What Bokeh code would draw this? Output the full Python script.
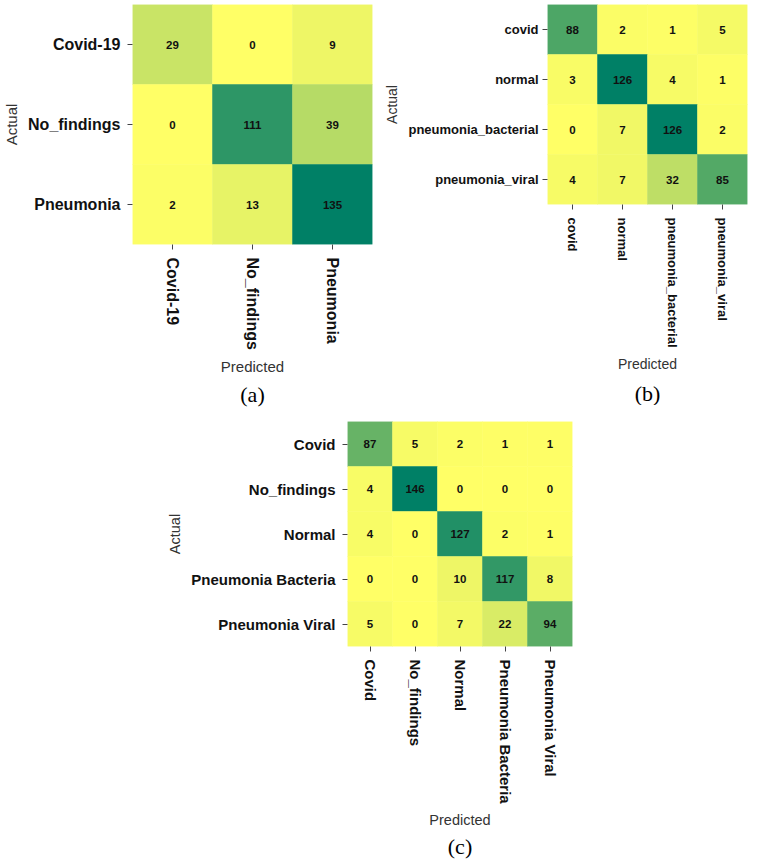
from bokeh.plotting import figure
from bokeh.models import ColumnDataSource, FactorRange, Title, LinearColorMapper
from bokeh.transform import transform
from bokeh.layouts import column, row
from bokeh.core.properties import value
from bokeh.embed import file_html
from bokeh.resources import INLINE

# ---------------- data ----------------
labels_a = ["Covid-19", "No_findings", "Pneumonia"]
cm_a = [[29, 0, 9],
        [0, 111, 39],
        [2, 13, 135]]

labels_b = ["covid", "normal", "pneumonia_bacterial", "pneumonia_viral"]
cm_b = [[88, 2, 1, 5],
        [3, 126, 4, 1],
        [0, 7, 126, 2],
        [4, 7, 32, 85]]

labels_c = ["Covid", "No_findings", "Normal", "Pneumonia Bacteria", "Pneumonia Viral"]
cm_c = [[87, 5, 2, 1, 1],
        [4, 146, 0, 0, 0],
        [4, 0, 127, 2, 1],
        [0, 0, 10, 117, 8],
        [5, 0, 7, 22, 94]]

captions = ["(a)", "(b)", "(c)"]


def summer_r(n=256):
    pal = []
    for i in range(n):
        t = 1 - i / (n - 1)
        r, g, b = t, 0.5 + 0.5 * t, 0.4
        pal.append("#%02x%02x%02x" % (round(r * 255), round(g * 255), round(b * 255)))
    return pal


PAL = summer_r()


def heatmap(labels, matrix, caption, fw, fh, mbl, mbr, mbt, mbb,
            tick_fs, axis_fs, ylab_standoff, cap_standoff):
    xs, ys, vals = [], [], []
    for i, a in enumerate(labels):
        for j, pr in enumerate(labels):
            ys.append(a)
            xs.append(pr)
            vals.append(matrix[i][j])
    src = ColumnDataSource(dict(pred=xs, actual=ys, val=vals,
                                txt=[str(v) for v in vals]))
    mapper = LinearColorMapper(palette=PAL, low=min(vals), high=max(vals))
    p = figure(x_range=FactorRange(factors=list(labels)),
               y_range=FactorRange(factors=list(reversed(labels))),
               frame_width=fw, frame_height=fh,
               min_border_left=mbl, min_border_right=mbr,
               min_border_top=mbt, min_border_bottom=mbb,
               output_backend="svg", toolbar_location=None, title=None)
    p.rect(x="pred", y="actual", width=1, height=1, source=src,
           fill_color=transform("val", mapper),
           line_color=transform("val", mapper), line_width=0.5)
    p.text(x="pred", y="actual", text="txt", source=src,
           text_align="center", text_baseline="middle",
           text_font=value("Liberation Sans"), text_font_style="bold",
           text_font_size="11.5px", text_color="#111111")
    for ax in (p.xaxis[0], p.yaxis[0]):
        ax.axis_line_color = None
        ax.major_tick_line_color = "#444444"
        ax.major_tick_out = 5
        ax.major_tick_in = 0
        ax.minor_tick_line_color = None
        ax.major_label_text_font = "Liberation Sans"
        ax.major_label_text_font_style = "bold"
        ax.major_label_text_font_size = tick_fs
        ax.major_label_text_color = "#111111"
        ax.axis_label_text_font = "Liberation Sans"
        ax.axis_label_text_font_style = "normal"
        ax.axis_label_text_font_size = axis_fs
        ax.axis_label_text_color = "#333333"
        ax.axis_label_standoff = 5
    p.xaxis.major_label_orientation = "vertical"
    p.xaxis.major_label_standoff = 8
    p.yaxis.major_label_standoff = ylab_standoff
    p.xaxis.axis_label = "Predicted"
    p.yaxis.axis_label = "Actual"
    p.grid.visible = False
    p.outline_line_color = None
    p.background_fill_color = "white"
    p.border_fill_color = "white"
    p.add_layout(Title(text=caption, align="center", text_font="Liberation Serif",
                       text_font_size="22px", text_font_style="normal",
                       text_color="#000000", standoff=cap_standoff), "below")
    return p


pa = heatmap(labels_a, cm_a, captions[0], 240, 240, 127, 3, 4, 160,
             "16px", "15px", 7, 4)
pb = heatmap(labels_b, cm_b, captions[1], 200, 200, 172, 4, 0, 204,
             "13px", "14px", 4, 8)
pc = heatmap(labels_c, cm_c, captions[2], 225, 225, 347, 10, 13, 206,
             "15px", "14.5px", 7, 2)

layout = column(row(pa, pb), pc)

open("out.html", "w").write(file_html(layout, INLINE))
